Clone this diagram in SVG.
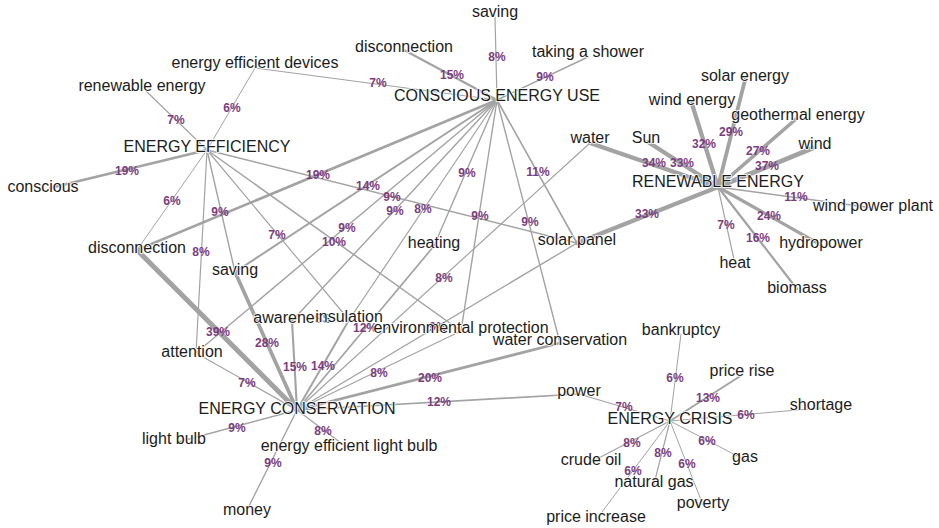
<svg xmlns="http://www.w3.org/2000/svg" width="939" height="528" viewBox="0 0 939 528">
<style>
.bg{fill:#fff}
#edges line{stroke:#a3a3a3;stroke-linecap:round}
.n{font-family:"Liberation Sans",Arial,sans-serif;font-size:16px;fill:#1c1c1c;text-anchor:middle;paint-order:stroke;stroke:#fff;stroke-width:1.5px}
.p{font-family:"Liberation Sans",Arial,sans-serif;font-size:12px;font-weight:bold;fill:#7b3d7f;text-anchor:middle}
</style>
<rect class="bg" width="939" height="528"/>
<g id="edges">
<!-- CONSCIOUS ENERGY USE -->
<line x1="497" y1="100" x2="495" y2="17" stroke-width="1.2"/>
<line x1="497" y1="100" x2="404" y2="50" stroke-width="2.1"/>
<line x1="497" y1="100" x2="588" y2="57" stroke-width="1.4"/>
<line x1="497" y1="100" x2="255" y2="68" stroke-width="1.2"/>
<line x1="497" y1="100" x2="137" y2="250" stroke-width="2.6"/>
<line x1="497" y1="100" x2="235" y2="272" stroke-width="2"/>
<line x1="497" y1="100" x2="196" y2="353" stroke-width="1.4"/>
<line x1="497" y1="100" x2="292" y2="321" stroke-width="1.4"/>
<line x1="497" y1="100" x2="349" y2="320" stroke-width="1.2"/>
<line x1="497" y1="100" x2="434" y2="246" stroke-width="1.4"/>
<line x1="497" y1="100" x2="461" y2="331" stroke-width="1.4"/>
<line x1="497" y1="100" x2="560" y2="343" stroke-width="1.4"/>
<line x1="497" y1="100" x2="577" y2="243" stroke-width="1.6"/>
<!-- ENERGY EFFICIENCY -->
<line x1="207" y1="150" x2="146" y2="91" stroke-width="1.2"/>
<line x1="207" y1="150" x2="255" y2="68" stroke-width="1"/>
<line x1="207" y1="150" x2="50" y2="188" stroke-width="2.6"/>
<line x1="207" y1="150" x2="137" y2="250" stroke-width="1"/>
<line x1="207" y1="150" x2="196" y2="353" stroke-width="1.2"/>
<line x1="207" y1="150" x2="235" y2="272" stroke-width="1.4"/>
<line x1="207" y1="150" x2="349" y2="320" stroke-width="1.2"/>
<line x1="207" y1="150" x2="461" y2="331" stroke-width="1.5"/>
<line x1="207" y1="150" x2="577" y2="243" stroke-width="1.4"/>
<!-- ENERGY CONSERVATION -->
<line x1="297" y1="410" x2="137" y2="250" stroke-width="5"/>
<line x1="297" y1="410" x2="235" y2="272" stroke-width="3.7"/>
<line x1="297" y1="410" x2="196" y2="353" stroke-width="1.2"/>
<line x1="297" y1="410" x2="292" y2="321" stroke-width="2.1"/>
<line x1="297" y1="410" x2="349" y2="320" stroke-width="2"/>
<line x1="297" y1="410" x2="434" y2="246" stroke-width="1.7"/>
<line x1="297" y1="410" x2="461" y2="331" stroke-width="1.2"/>
<line x1="297" y1="410" x2="560" y2="343" stroke-width="2.7"/>
<line x1="297" y1="410" x2="577" y2="243" stroke-width="1.4"/>
<line x1="297" y1="410" x2="590" y2="143" stroke-width="1.2"/>
<line x1="297" y1="410" x2="579" y2="394" stroke-width="1.7"/>
<line x1="297" y1="410" x2="178" y2="442" stroke-width="1.4"/>
<line x1="297" y1="410" x2="349" y2="449" stroke-width="1.2"/>
<line x1="297" y1="410" x2="247" y2="510" stroke-width="1.4"/>
<!-- RENEWABLE ENERGY -->
<line x1="718" y1="187" x2="590" y2="143" stroke-width="4.4"/>
<line x1="718" y1="187" x2="648" y2="142" stroke-width="4.3"/>
<line x1="718" y1="187" x2="692" y2="104" stroke-width="4.2"/>
<line x1="718" y1="187" x2="745" y2="80" stroke-width="3.8"/>
<line x1="718" y1="187" x2="796" y2="119" stroke-width="3.6"/>
<line x1="718" y1="187" x2="813" y2="148" stroke-width="4.7"/>
<line x1="718" y1="187" x2="873" y2="208" stroke-width="1.6"/>
<line x1="718" y1="187" x2="821" y2="245" stroke-width="3.2"/>
<line x1="718" y1="187" x2="797" y2="289" stroke-width="2.2"/>
<line x1="718" y1="187" x2="735" y2="264" stroke-width="1.2"/>
<line x1="718" y1="187" x2="577" y2="243" stroke-width="4.3"/>
<!-- ENERGY CRISIS -->
<line x1="670" y1="421" x2="579" y2="394" stroke-width="1.2"/>
<line x1="670" y1="421" x2="681" y2="334" stroke-width="1"/>
<line x1="670" y1="421" x2="742" y2="375" stroke-width="1.9"/>
<line x1="670" y1="421" x2="821" y2="408" stroke-width="1"/>
<line x1="670" y1="421" x2="745" y2="460" stroke-width="1"/>
<line x1="670" y1="421" x2="703" y2="505" stroke-width="1"/>
<line x1="670" y1="421" x2="654" y2="484" stroke-width="1.2"/>
<line x1="670" y1="421" x2="596" y2="520" stroke-width="1"/>
<line x1="670" y1="421" x2="591" y2="462" stroke-width="1.2"/>
</g>
<g id="edge-labels">
<text class="p" x="497" y="61">8%</text>
<text class="p" x="452" y="79">15%</text>
<text class="p" x="545" y="81">9%</text>
<text class="p" x="378" y="87">7%</text>
<text class="p" x="318" y="179">19%</text>
<text class="p" x="368" y="190">14%</text>
<text class="p" x="347" y="232">9%</text>
<text class="p" x="395" y="215">9%</text>
<text class="p" x="423" y="213">8%</text>
<text class="p" x="467" y="177">9%</text>
<text class="p" x="480" y="220">9%</text>
<text class="p" x="530" y="226">9%</text>
<text class="p" x="538" y="176">11%</text>
<text class="p" x="176" y="124">7%</text>
<text class="p" x="232" y="112">6%</text>
<text class="p" x="127" y="175">19%</text>
<text class="p" x="172" y="205">6%</text>
<text class="p" x="201" y="256">8%</text>
<text class="p" x="220" y="216">9%</text>
<text class="p" x="277" y="239">7%</text>
<text class="p" x="334" y="246">10%</text>
<text class="p" x="392" y="201">9%</text>
<text class="p" x="218" y="336">39%</text>
<text class="p" x="267" y="347">28%</text>
<text class="p" x="247" y="387">7%</text>
<text class="p" x="295" y="371">15%</text>
<text class="p" x="323" y="370">14%</text>
<text class="p" x="365" y="332">12%</text>
<text class="p" x="379" y="377">8%</text>
<text class="p" x="430" y="382">20%</text>
<text class="p" x="438" y="331">9%</text>
<text class="p" x="444" y="282">8%</text>
<text class="p" x="439" y="406">12%</text>
<text class="p" x="237" y="432">9%</text>
<text class="p" x="323" y="435">8%</text>
<text class="p" x="273" y="467">9%</text>
<text class="p" x="654" y="167">34%</text>
<text class="p" x="682" y="167">33%</text>
<text class="p" x="704" y="148">32%</text>
<text class="p" x="731" y="136">29%</text>
<text class="p" x="758" y="155">27%</text>
<text class="p" x="767" y="170">37%</text>
<text class="p" x="796" y="201">11%</text>
<text class="p" x="769" y="220">24%</text>
<text class="p" x="758" y="242">16%</text>
<text class="p" x="726" y="229">7%</text>
<text class="p" x="647" y="218">33%</text>
<text class="p" x="624" y="411">7%</text>
<text class="p" x="675" y="382">6%</text>
<text class="p" x="708" y="402">13%</text>
<text class="p" x="746" y="419">6%</text>
<text class="p" x="707" y="445">6%</text>
<text class="p" x="687" y="468">6%</text>
<text class="p" x="663" y="457">8%</text>
<text class="p" x="633" y="475">6%</text>
<text class="p" x="632" y="447">8%</text>
</g>
<g id="n-ceu"><text class="n" x="497" y="101">CONSCIOUS ENERGY USE</text></g>
<g id="n-ee"><text class="n" x="207" y="152">ENERGY EFFICIENCY</text></g>
<g id="n-re"><text class="n" x="718" y="187">RENEWABLE ENERGY</text></g>
<g id="n-ec"><text class="n" x="297" y="414">ENERGY CONSERVATION</text></g>
<g id="n-ecr"><text class="n" x="670" y="424">ENERGY CRISIS</text></g>
<g id="n-saving-top"><text class="n" x="495" y="17">saving</text></g>
<g id="n-disconnection-top"><text class="n" x="404" y="52">disconnection</text></g>
<g id="n-shower"><text class="n" x="588" y="57">taking a shower</text></g>
<g id="n-eed"><text class="n" x="255" y="68">energy efficient devices</text></g>
<g id="n-renewable"><text class="n" x="142" y="91">renewable energy</text></g>
<g id="n-conscious"><text class="n" x="43" y="192">conscious</text></g>
<g id="n-disconnection"><text class="n" x="137" y="253">disconnection</text></g>
<g id="n-saving"><text class="n" x="235" y="275">saving</text></g>
<g id="n-attention"><text class="n" x="192" y="357">attention</text></g>
<g id="n-awareness"><text class="n" x="292" y="323">awareness</text></g>
<g id="n-insulation"><text class="n" x="349" y="322">insulation</text></g>
<g id="n-heating"><text class="n" x="434" y="248">heating</text></g>
<g id="n-envprot"><text class="n" x="461" y="333">environmental protection</text></g>
<g id="n-watercons"><text class="n" x="560" y="345">water conservation</text></g>
<g id="n-solarpanel"><text class="n" x="577" y="245">solar panel</text></g>
<g id="n-water"><text class="n" x="590" y="143">water</text></g>
<g id="n-power"><text class="n" x="579" y="396">power</text></g>
<g id="n-lightbulb"><text class="n" x="174" y="444">light bulb</text></g>
<g id="n-eelb"><text class="n" x="349" y="451">energy efficient light bulb</text></g>
<g id="n-money"><text class="n" x="247" y="515">money</text></g>
<g id="n-sun"><text class="n" x="646" y="143">Sun</text></g>
<g id="n-windenergy"><text class="n" x="692" y="105">wind energy</text></g>
<g id="n-solarenergy"><text class="n" x="745" y="81">solar energy</text></g>
<g id="n-geothermal"><text class="n" x="798" y="120">geothermal energy</text></g>
<g id="n-wind"><text class="n" x="815" y="149">wind</text></g>
<g id="n-wpp"><text class="n" x="873" y="211">wind power plant</text></g>
<g id="n-hydro"><text class="n" x="821" y="248">hydropower</text></g>
<g id="n-biomass"><text class="n" x="797" y="293">biomass</text></g>
<g id="n-heat"><text class="n" x="735" y="268">heat</text></g>
<g id="n-bankruptcy"><text class="n" x="681" y="335">bankruptcy</text></g>
<g id="n-pricerise"><text class="n" x="742" y="376">price rise</text></g>
<g id="n-shortage"><text class="n" x="821" y="410">shortage</text></g>
<g id="n-gas"><text class="n" x="745" y="462">gas</text></g>
<g id="n-poverty"><text class="n" x="703" y="508">poverty</text></g>
<g id="n-naturalgas"><text class="n" x="654" y="487">natural gas</text></g>
<g id="n-priceinc"><text class="n" x="596" y="522">price increase</text></g>
<g id="n-crudeoil"><text class="n" x="591" y="465">crude oil</text></g>
</svg>
